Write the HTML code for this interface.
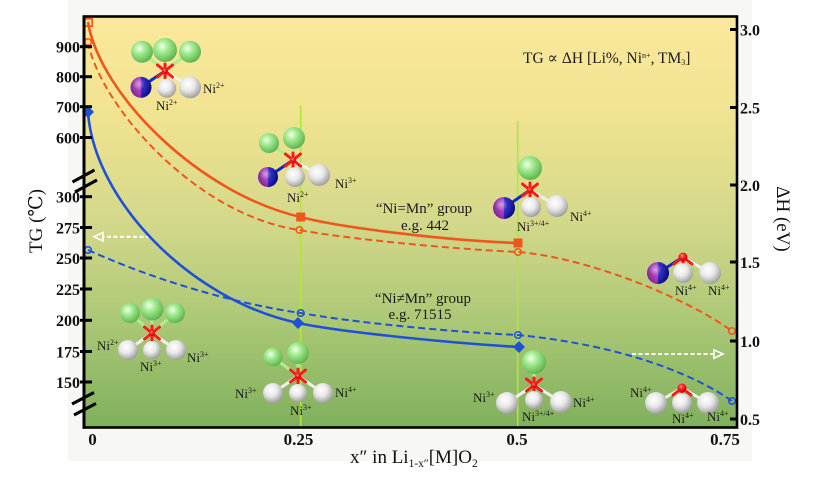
<!DOCTYPE html>
<html>
<head>
<meta charset="utf-8">
<style>
  html,body{margin:0;padding:0;background:#ffffff;}
  svg{display:block;}
  .tk{font-family:"Liberation Serif","DejaVu Serif",serif;font-weight:bold;font-size:16px;fill:#111;}
  .tkx{font-family:"Liberation Serif","DejaVu Serif",serif;font-weight:bold;font-size:17px;fill:#111;}
  .lb{font-family:"Liberation Serif","DejaVu Serif",serif;font-size:13px;fill:#1a1a1a;}
  .sp{font-size:8px;}
  .ann{font-family:"Liberation Serif","DejaVu Serif",serif;font-size:15px;fill:#1a1a1a;}
  .ttl{font-family:"Liberation Serif","DejaVu Serif",serif;font-size:19px;fill:#111;}
</style>
</head>
<body>
<svg width="825" height="479" viewBox="0 0 825 479" xmlns="http://www.w3.org/2000/svg">
  <defs>
    <linearGradient id="bg" x1="0" y1="0" x2="0" y2="1">
      <stop offset="0" stop-color="#fce89c"/>
      <stop offset="0.25" stop-color="#efe391"/>
      <stop offset="0.5" stop-color="#d3d88a"/>
      <stop offset="0.75" stop-color="#aac775"/>
      <stop offset="1" stop-color="#7fb05c"/>
    </linearGradient>
    <radialGradient id="gG" cx="0.38" cy="0.35" r="0.7">
      <stop offset="0" stop-color="#f4fff2"/>
      <stop offset="0.35" stop-color="#a6ec92"/>
      <stop offset="1" stop-color="#58b048"/>
    </radialGradient>
    <radialGradient id="gW" cx="0.4" cy="0.35" r="0.7">
      <stop offset="0" stop-color="#ffffff"/>
      <stop offset="0.45" stop-color="#e8e8e8"/>
      <stop offset="1" stop-color="#959595"/>
    </radialGradient>
    <linearGradient id="gP" x1="0" y1="0" x2="1" y2="0">
      <stop offset="0" stop-color="#7a1c98"/>
      <stop offset="0.48" stop-color="#b030c0"/>
      <stop offset="0.52" stop-color="#1c1cc8"/>
      <stop offset="1" stop-color="#0c0c90"/>
    </linearGradient>
    <radialGradient id="hl" cx="0.38" cy="0.35" r="0.6">
      <stop offset="0" stop-color="#ffffff" stop-opacity="0.55"/>
      <stop offset="0.5" stop-color="#ffffff" stop-opacity="0.08"/>
      <stop offset="1" stop-color="#000000" stop-opacity="0.15"/>
    </radialGradient>
    <radialGradient id="gR" cx="0.4" cy="0.35" r="0.7">
      <stop offset="0" stop-color="#ff9090"/>
      <stop offset="0.4" stop-color="#ff2020"/>
      <stop offset="1" stop-color="#c00000"/>
    </radialGradient>
    <g id="star">
      <path d="M-7.5,-6 L7.5,6 M7.5,-6 L-7.5,6 M0,-7 L0,7" stroke="#ff1a1a" stroke-width="3" stroke-linecap="round" fill="none"/>
      <circle cx="0" cy="0" r="3" fill="url(#gR)"/>
    </g>
    <g id="star2">
      <path d="M0,0 L-9,7 M0,0 L9,7 M0,0 L0,9" stroke="#ff1a1a" stroke-width="3" stroke-linecap="round" fill="none"/>
      <circle cx="0" cy="0" r="4.5" fill="url(#gR)"/>
    </g>
  </defs>

  <!-- figure background -->
  <rect x="68" y="0" width="684" height="461" fill="#f7f7f5"/>

  <!-- plot area -->
  <rect x="84" y="16.5" width="653" height="411" fill="url(#bg)"/>

  <!-- vertical guide lines -->
  <line x1="300.7" y1="105" x2="300.7" y2="427" stroke="#b2e43e" stroke-width="1.6"/>
  <line x1="517.7" y1="121" x2="517.7" y2="427" stroke="#b2e43e" stroke-width="1.6"/>

  <!-- white dashed arrows -->
  <g stroke="#ffffff" fill="none" stroke-width="2">
    <line x1="150" y1="236.7" x2="102" y2="236.7" stroke-dasharray="4 2.5"/>
    <path d="M103,232.5 L94,236.7 L103,241 Z" stroke-width="1.6"/>
    <line x1="632" y1="354" x2="714" y2="354" stroke-dasharray="4 2.5"/>
    <path d="M714,349.8 L723,354 L714,358.2 Z" stroke-width="1.6"/>
  </g>

  <!-- curves -->
  <g fill="none" stroke-linecap="butt">
    <path d="M88,22 C100,95 200,194 300.7,217 C340,227.6 450,241 518,243" stroke="#f0561c" stroke-width="2.6"/>
    <path d="M88,42 C100,105 195,215 299.5,230 C340,238 450,249 518,252 C590,258 687,298.6 732,331" stroke="#f0561c" stroke-width="2" stroke-dasharray="7 4"/>
    <path d="M88,112 C94,200 190,300 298,323 C340,332 450,343 519,347" stroke="#1f50d8" stroke-width="2.6"/>
    <path d="M88,250 C150,278 230,303 300.7,313 C350,322 450,332 518,335 C600,343 680,365 732,401" stroke="#1f50d8" stroke-width="2" stroke-dasharray="7 4"/>
  </g>

  <!-- markers -->
  <g>
    <rect x="84.8" y="18.8" width="7.4" height="7.4" fill="none" stroke="#f0561c" stroke-width="1.6"/>
    <circle cx="88" cy="42" r="3.3" fill="#f6e190" stroke="#f0561c" stroke-width="1.5"/>
    <rect x="296.2" y="212.5" width="9" height="9" fill="#f0561c"/>
    <rect x="513.5" y="238.5" width="9" height="9" fill="#f0561c"/>
    <circle cx="299.5" cy="230" r="3.3" fill="none" stroke="#f0561c" stroke-width="1.5"/>
    <circle cx="518" cy="252" r="3.3" fill="none" stroke="#f0561c" stroke-width="1.5"/>
    <circle cx="732" cy="331" r="3.3" fill="none" stroke="#f0561c" stroke-width="1.5"/>

    <path d="M88,106 L94,112 L88,118 L82,112 Z" fill="#1f50d8"/>
    <path d="M298,317 L304,323 L298,329 L292,323 Z" fill="#1f50d8"/>
    <path d="M519,341 L525,347 L519,353 L513,347 Z" fill="#1f50d8"/>
    <circle cx="88" cy="250" r="3.3" fill="none" stroke="#1f50d8" stroke-width="1.5"/>
    <circle cx="300.7" cy="313" r="3.3" fill="none" stroke="#1f50d8" stroke-width="1.5"/>
    <circle cx="518" cy="335" r="3.3" fill="none" stroke="#1f50d8" stroke-width="1.5"/>
    <circle cx="732" cy="401" r="3.3" fill="none" stroke="#1f50d8" stroke-width="1.5"/>
  </g>

  <!-- ===== Icon 1 ===== -->
  <g stroke-width="3" stroke-linecap="round">
    <line x1="165" y1="71" x2="142" y2="52" stroke="#a8f090"/>
    <line x1="165" y1="71" x2="190" y2="52" stroke="#a8f090"/>
    <line x1="165" y1="71" x2="141" y2="87" stroke="#1428c8"/>
    <line x1="165" y1="71" x2="190" y2="87" stroke="#f0f0f0"/>
    <line x1="165" y1="71" x2="167" y2="88" stroke="#bbbbbb"/>
  </g>
  <circle cx="142" cy="51.7" r="11" fill="url(#gG)"/>
  <circle cx="190" cy="51.7" r="11" fill="url(#gG)"/>
  <circle cx="165" cy="50" r="12" fill="url(#gG)"/>
  <use href="#star" transform="translate(165,71)"/>
  <circle cx="141" cy="87.3" r="10.5" fill="url(#gP)"/>
  <circle cx="141" cy="87.3" r="10.5" fill="url(#hl)"/>
  <circle cx="166.7" cy="88.3" r="9.5" fill="url(#gW)"/>
  <circle cx="190" cy="87.3" r="11" fill="url(#gW)"/>
  <text class="lb" x="203" y="93">Ni<tspan class="sp" dy="-5">2+</tspan></text>
  <text class="lb" x="156" y="110">Ni<tspan class="sp" dy="-5">2+</tspan></text>

  <!-- ===== Icon 2 ===== -->
  <g stroke-width="3" stroke-linecap="round">
    <line x1="293" y1="160" x2="269" y2="143" stroke="#a8f090"/>
    <line x1="293" y1="160" x2="294" y2="138" stroke="#a8f090"/>
    <line x1="293" y1="160" x2="268" y2="177" stroke="#1428c8"/>
    <line x1="293" y1="160" x2="319" y2="175" stroke="#f0f0f0"/>
    <line x1="293" y1="160" x2="295" y2="177" stroke="#bbbbbb"/>
  </g>
  <circle cx="269" cy="143" r="10" fill="url(#gG)"/>
  <circle cx="294" cy="138" r="11" fill="url(#gG)"/>
  <use href="#star" transform="translate(293,160)"/>
  <circle cx="268" cy="177" r="10" fill="url(#gP)"/>
  <circle cx="268" cy="177" r="10" fill="url(#hl)"/>
  <circle cx="295" cy="177" r="10" fill="url(#gW)"/>
  <circle cx="319" cy="175" r="11" fill="url(#gW)"/>
  <text class="lb" x="335" y="188">Ni<tspan class="sp" dy="-5">3+</tspan></text>
  <text class="lb" x="287" y="202">Ni<tspan class="sp" dy="-5">2+</tspan></text>

  <!-- ===== Icon 3 ===== -->
  <g stroke-width="3" stroke-linecap="round">
    <line x1="530" y1="190" x2="530" y2="168" stroke="#a8f090"/>
    <line x1="530" y1="190" x2="504" y2="208" stroke="#1428c8"/>
    <line x1="530" y1="190" x2="557" y2="206" stroke="#f0f0f0"/>
    <line x1="530" y1="190" x2="531" y2="207" stroke="#bbbbbb"/>
  </g>
  <circle cx="530" cy="168" r="12" fill="url(#gG)"/>
  <use href="#star" transform="translate(530,190)"/>
  <circle cx="504" cy="208" r="11" fill="url(#gP)"/>
  <circle cx="504" cy="208" r="11" fill="url(#hl)"/>
  <circle cx="531" cy="207" r="10" fill="url(#gW)"/>
  <circle cx="557" cy="206" r="11" fill="url(#gW)"/>
  <text class="lb" x="570" y="221">Ni<tspan class="sp" dy="-5">4+</tspan></text>
  <text class="lb" x="517" y="231">Ni<tspan class="sp" dy="-5">3+/4+</tspan></text>

  <!-- ===== Icon 4 ===== -->
  <g stroke-width="3" stroke-linecap="round">
    <line x1="683" y1="257" x2="658" y2="273" stroke="#1428c8"/>
    <line x1="683" y1="257" x2="710" y2="273" stroke="#f0f0f0"/>
  </g>
  <use href="#star2" transform="translate(683,257)"/>
  <circle cx="658" cy="273" r="11" fill="url(#gP)"/>
  <circle cx="658" cy="273" r="11" fill="url(#hl)"/>
  <circle cx="683" cy="273" r="10" fill="url(#gW)"/>
  <circle cx="710" cy="273" r="11" fill="url(#gW)"/>
  <text class="lb" x="675" y="295">Ni<tspan class="sp" dy="-5">4+</tspan></text>
  <text class="lb" x="708" y="295">Ni<tspan class="sp" dy="-5">4+</tspan></text>

  <!-- ===== Icon 5 ===== -->
  <g stroke-width="3" stroke-linecap="round">
    <line x1="152" y1="333" x2="130" y2="313" stroke="#a8f090"/>
    <line x1="152" y1="333" x2="175" y2="313" stroke="#a8f090"/>
    <line x1="152" y1="333" x2="152" y2="309" stroke="#a8f090"/>
    <line x1="152" y1="333" x2="128" y2="350" stroke="#f0f0f0"/>
    <line x1="152" y1="333" x2="176" y2="350" stroke="#f0f0f0"/>
    <line x1="152" y1="333" x2="152" y2="350" stroke="#bbbbbb"/>
  </g>
  <circle cx="130" cy="313" r="10" fill="url(#gG)"/>
  <circle cx="175" cy="313" r="10" fill="url(#gG)"/>
  <circle cx="152" cy="309" r="11.5" fill="url(#gG)"/>
  <use href="#star" transform="translate(152,333)"/>
  <circle cx="128" cy="350" r="10" fill="url(#gW)"/>
  <circle cx="152" cy="350" r="9" fill="url(#gW)"/>
  <circle cx="176" cy="350" r="10" fill="url(#gW)"/>
  <text class="lb" x="97" y="350">Ni<tspan class="sp" dy="-5">2+</tspan></text>
  <text class="lb" x="140" y="371">Ni<tspan class="sp" dy="-5">3+</tspan></text>
  <text class="lb" x="187" y="362">Ni<tspan class="sp" dy="-5">3+</tspan></text>

  <!-- ===== Icon 6 ===== -->
  <g stroke-width="3" stroke-linecap="round">
    <line x1="298" y1="376" x2="273" y2="357" stroke="#a8f090"/>
    <line x1="298" y1="376" x2="298" y2="353" stroke="#a8f090"/>
    <line x1="298" y1="376" x2="273" y2="393" stroke="#f0f0f0"/>
    <line x1="298" y1="376" x2="323" y2="393" stroke="#f0f0f0"/>
    <line x1="298" y1="376" x2="298" y2="393" stroke="#bbbbbb"/>
  </g>
  <circle cx="273" cy="357" r="9.5" fill="url(#gG)"/>
  <circle cx="298" cy="353" r="11" fill="url(#gG)"/>
  <use href="#star" transform="translate(298,376)"/>
  <circle cx="273" cy="393" r="10" fill="url(#gW)"/>
  <circle cx="298" cy="393" r="9" fill="url(#gW)"/>
  <circle cx="323" cy="393" r="10" fill="url(#gW)"/>
  <text class="lb" x="235" y="398">Ni<tspan class="sp" dy="-5">3+</tspan></text>
  <text class="lb" x="290" y="415">Ni<tspan class="sp" dy="-5">3+</tspan></text>
  <text class="lb" x="335" y="397">Ni<tspan class="sp" dy="-5">4+</tspan></text>

  <!-- ===== Icon 7 ===== -->
  <g stroke-width="3" stroke-linecap="round">
    <line x1="534" y1="385" x2="534" y2="362" stroke="#a8f090"/>
    <line x1="534" y1="385" x2="507" y2="403" stroke="#f0f0f0"/>
    <line x1="534" y1="385" x2="561" y2="402" stroke="#f0f0f0"/>
    <line x1="534" y1="385" x2="534" y2="400" stroke="#bbbbbb"/>
  </g>
  <circle cx="534" cy="362" r="12" fill="url(#gG)"/>
  <use href="#star" transform="translate(534,385)"/>
  <circle cx="507" cy="403" r="11" fill="url(#gW)"/>
  <circle cx="534" cy="400" r="9" fill="url(#gW)"/>
  <circle cx="561" cy="402" r="11" fill="url(#gW)"/>
  <text class="lb" x="473" y="402">Ni<tspan class="sp" dy="-5">3+</tspan></text>
  <text class="lb" x="522" y="421">Ni<tspan class="sp" dy="-5">3+/4+</tspan></text>
  <text class="lb" x="573" y="407">Ni<tspan class="sp" dy="-5">4+</tspan></text>

  <!-- ===== Icon 8 ===== -->
  <g stroke-width="3" stroke-linecap="round">
    <line x1="682" y1="388" x2="656" y2="403" stroke="#f0f0f0"/>
    <line x1="682" y1="388" x2="708" y2="403" stroke="#f0f0f0"/>
  </g>
  <use href="#star2" transform="translate(682,388)"/>
  <circle cx="656" cy="403" r="11" fill="url(#gW)"/>
  <circle cx="682" cy="403" r="10" fill="url(#gW)"/>
  <circle cx="708" cy="403" r="11" fill="url(#gW)"/>
  <text class="lb" x="630" y="397">Ni<tspan class="sp" dy="-5">4+</tspan></text>
  <text class="lb" x="672" y="423">Ni<tspan class="sp" dy="-5">4+</tspan></text>
  <text class="lb" x="707" y="421">Ni<tspan class="sp" dy="-5">4+</tspan></text>

  <!-- annotations -->
  <text class="ann" x="523" y="63" style="font-size:15.5px">TG ∝ ΔH [Li%, Ni<tspan style="font-size:8px" dy="-5">n+</tspan><tspan dy="5">, TM</tspan><tspan style="font-size:8px" dy="2">3</tspan><tspan dy="-2">]</tspan></text>
  <text class="ann" x="424" y="213" text-anchor="middle">“Ni=Mn” group</text>
  <text class="ann" x="425" y="230" text-anchor="middle">e.g. 442</text>
  <text class="ann" x="423" y="303" text-anchor="middle">“Ni≠Mn” group</text>
  <text class="ann" x="420" y="319" text-anchor="middle">e.g. 71515</text>

  <!-- frame -->
  <rect x="84" y="16.5" width="653" height="411" fill="none" stroke="#000" stroke-width="2.6"/>
  <line x1="84" y1="15.5" x2="84" y2="428.8" stroke="#000" stroke-width="3"/>

  <!-- left ticks -->
  <g stroke="#000" stroke-width="3">
    <line x1="80" y1="46.7" x2="92" y2="46.7"/>
    <line x1="80" y1="76.7" x2="92" y2="76.7"/>
    <line x1="80" y1="106.7" x2="92" y2="106.7"/>
    <line x1="80" y1="137.5" x2="92" y2="137.5"/>
    <line x1="80" y1="196.7" x2="92" y2="196.7"/>
    <line x1="80" y1="227.5" x2="92" y2="227.5"/>
    <line x1="80" y1="258" x2="92" y2="258"/>
    <line x1="80" y1="289" x2="92" y2="289"/>
    <line x1="80" y1="320.3" x2="92" y2="320.3"/>
    <line x1="80" y1="351.5" x2="92" y2="351.5"/>
    <line x1="80" y1="382" x2="92" y2="382"/>
  </g>
  <!-- axis break marks -->
  <g stroke="#000" stroke-width="3" stroke-linecap="butt">
    <line x1="72.5" y1="182" x2="94.5" y2="170"/>
    <line x1="75" y1="192" x2="97" y2="180"/>
    <line x1="72" y1="404" x2="94" y2="392.5"/>
    <line x1="74" y1="415" x2="96" y2="403.5"/>
  </g>
  <!-- left tick labels -->
  <g class="tk" text-anchor="end">
    <text x="80" y="52.5">900</text>
    <text x="80" y="82.5">800</text>
    <text x="80" y="112.5">700</text>
    <text x="80" y="143.3">600</text>
    <text x="80" y="202.5">300</text>
    <text x="80" y="233.3">275</text>
    <text x="80" y="263.8">250</text>
    <text x="80" y="294.8">225</text>
    <text x="80" y="326.1">200</text>
    <text x="80" y="357.3">175</text>
    <text x="80" y="387.8">150</text>
  </g>

  <!-- right ticks -->
  <g stroke="#000" stroke-width="3">
    <line x1="730" y1="29.5" x2="738" y2="29.5"/>
    <line x1="730" y1="107.5" x2="738" y2="107.5"/>
    <line x1="730" y1="185" x2="738" y2="185"/>
    <line x1="730" y1="262" x2="738" y2="262"/>
    <line x1="730" y1="341" x2="738" y2="341"/>
    <line x1="730" y1="419" x2="738" y2="419"/>
  </g>
  <g class="tk">
    <text x="740" y="35.5">3.0</text>
    <text x="740" y="113.5">2.5</text>
    <text x="740" y="191">2.0</text>
    <text x="740" y="268">1.5</text>
    <text x="740" y="347">1.0</text>
    <text x="740" y="425">0.5</text>
  </g>

  <!-- bottom tick labels -->
  <g class="tkx" text-anchor="middle">
    <text x="92.5" y="445">0</text>
    <text x="298.5" y="445">0.25</text>
    <text x="517" y="445">0.5</text>
    <text x="725" y="445">0.75</text>
  </g>

  <!-- axis titles -->
  <text class="ttl" x="350" y="463">x″ in Li<tspan style="font-size:11.5px" dy="4">1-x″</tspan><tspan dy="-4">[M]O</tspan><tspan style="font-size:11.5px" dy="4">2</tspan></text>
  <text class="ttl" transform="translate(42,221) rotate(-90)" text-anchor="middle">TG (℃)</text>
  <text class="ttl" transform="translate(777,219) rotate(90)" text-anchor="middle">ΔH (eV)</text>
</svg>
</body>
</html>
